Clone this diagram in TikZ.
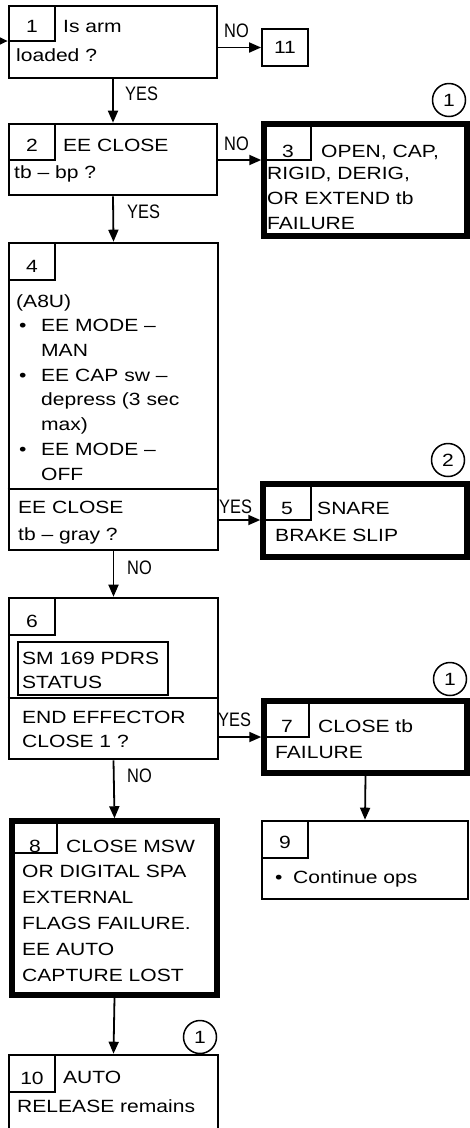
\documentclass[tikz,border=0pt]{standalone}
\usepackage{fontspec}
\setmainfont{Liberation Sans}[FakeStretch=1.19]
\newfontfamily\yesnofont{Liberation Sans}[FakeStretch=0.84]
\usetikzlibrary{arrows.meta,fit}

\begin{document}
\begin{tikzpicture}[x=1pt,y=-1pt,
  every node/.style={inner sep=0pt},
  txt/.style={anchor=base west,align=left,font=\fontsize{17.7}{24.7}\selectfont},
  numtxt/.style={anchor=base,font=\fontsize{17.7}{20}\selectfont},
  lbl/.style={anchor=base west,font=\yesnofont\fontsize{19.5}{20}\selectfont},
  stepbox/.style={draw,line width=2.6pt},
  failbox/.style={draw,line width=5.5pt},
  numbox/.style={draw,line width=1.3pt,outer sep=0pt,anchor=north west,
    minimum width=46,minimum height=36},
  refnote/.style={draw,circle,line width=1.5pt,minimum size=33,font=\fontsize{17.7}{20}\selectfont},
  arr/.style={line width=1.8pt,-{Triangle[length=12pt,width=10pt]}}]
\useasboundingbox (0,0) rectangle (469,1128);
% (multi-line texts are placed by the baseline of their last line)
%
% Step 1 and 11
\node[stepbox,fit={(9,6) (217,78)}] (b1) {};
\node[numbox,minimum height=35] (n1) at (9,6) {};
\node[numtxt] (k1) at (32,32) {1};
\node[txt] (t1a) at (63,32) {Is arm};
\node[txt] (t1b) at (16,61) {loaded ?};
\node[draw,line width=1.8pt,minimum width=46,minimum height=37] (b11) at (285,47.5) {};
\node[numtxt] (k11) at (285,53.5) {11};
\coordinate (entry) at (0,41);
\draw[line width=1.8pt,-{Triangle[length=9pt,width=8pt]}] (entry) -- (entry -| b1.west);
\draw[arr] (b11.west -| b1.east) -- (b11.west);
\node[lbl] (no1) at (224,37) {NO};
%
% Step 2
\node[stepbox,fit={(9,124) (217,195)}] (b2) {};
\node[numbox] (n2) at (9,124) {};
\node[numtxt] (k2) at (32,151) {2};
\node[txt] (t2a) at (63,151) {EE CLOSE};
\node[txt] (t2b) at (14,178) {tb – bp ?};
\draw[arr] (b1.south) -- (b2.north);
\node[lbl] (yes1) at (125,100) {YES};
%
% Step 3
\node[failbox,fit={(264,124) (467,236)}] (b3) {};
\node[numbox,minimum width=47] (n3) at (264,124) {};
\node[numtxt] (k3) at (288,157) {3};
\node[txt] (t3a) at (321,157) {OPEN, CAP,};
\node[txt] (t3b) at (267,229) {RIGID, DERIG,\\OR EXTEND tb\\FAILURE};
\node[refnote] (c1) at (449,100) {1};
\draw[arr] (n3.south west -| b2.east) -- (n3.south west -| b3.west);
\node[lbl] (no2) at (224,150) {NO};
%
% Step 4
\node[stepbox,fit={(9,243) (218,550)}] (b4) {};
\node[numbox,minimum height=37] (n4) at (9,243) {};
\node[numtxt] (k4) at (32,272) {4};
\node[txt] (t4a) at (16,480) {(A8U)\\
  \makebox[25pt][l]{\hspace{3pt}\textbullet}EE MODE –\\
  \hspace*{25pt}MAN\\
  \makebox[25pt][l]{\hspace{3pt}\textbullet}EE CAP sw –\\
  \hspace*{25pt}depress (3 sec\\
  \hspace*{25pt}max)\\
  \makebox[25pt][l]{\hspace{3pt}\textbullet}EE MODE –\\
  \hspace*{25pt}OFF};
\coordinate (d4) at (0,489);
\draw[line width=2.6pt] (b4.west |- d4) -- (b4.east |- d4);
\node[txt] (t4b) at (18,540) {EE CLOSE\\[2pt]tb – gray ?};
\draw[arr] (b2.south) -- (b4.north);
\node[lbl] (yes2) at (127,218) {YES};
%
% Step 5
\node[failbox,fit={(263,484) (467,557)}] (b5) {};
\node[numbox,minimum width=48] (n5) at (263,484) {};
\node[numtxt] (k5) at (287,514) {5};
\node[txt] (t5a) at (317,514) {SNARE};
\node[txt] (t5b) at (275,541) {BRAKE SLIP};
\node[refnote] (c2) at (448,460) {2};
\draw[arr] (n5.south west -| b4.east) -- (n5.south west -| b5.west);
\node[lbl] (yes3) at (219,513) {YES};
%
% Step 6
\node[stepbox,fit={(9,598) (218,759)}] (b6) {};
\node[numbox,minimum height=37] (n6) at (9,598) {};
\node[numtxt] (k6) at (32,627) {6};
\node[draw,line width=2pt,fit={(18,642) (168,695)}] (sm) {};
\node[txt] (t6a) at (22,688.7) {SM 169 PDRS\\STATUS};
\coordinate (d6) at (0,698);
\draw[line width=2.6pt] (b6.west |- d6) -- (b6.east |- d6);
\node[txt] (t6b) at (22,747.7) {END EFFECTOR\\CLOSE 1 ?};
\draw[arr] (b4.south) -- (b6.north);
\node[lbl] (no3) at (127,574) {NO};
%
% Step 7
\node[failbox,fit={(264,701) (467,773)}] (b7) {};
\node[numbox,minimum width=45] (n7) at (264,701) {};
\node[numtxt] (k7) at (287,732.5) {7};
\node[txt] (t7a) at (318,732) {CLOSE tb};
\node[txt] (t7b) at (275,758) {FAILURE};
\node[refnote] (c3) at (450,679) {1};
\draw[arr] (n7.south west -| b6.east) -- (n7.south west -| b7.west);
\node[lbl] (yes4) at (218,726) {YES};
%
% Step 9
\node[stepbox,fit={(262,821) (468,899)}] (b9) {};
\node[numbox,minimum height=37] (n9) at (262,821) {};
\node[numtxt] (k9) at (285,848) {9};
\node[txt] (t9) at (275,883) {\makebox[18pt][l]{\textbullet}Continue ops};
\draw[arr] (b7.south) -- (b9.north);
%
% Step 8
\node[failbox,fit={(12,821) (217,995)}] (b8) {};
\node[numbox,minimum width=45,minimum height=32] (n8) at (12,821) {};
\node[numtxt] (k8) at (35,852.5) {8};
\node[txt] (t8a) at (66,852) {CLOSE MSW};
\node[txt,font=\fontsize{17.7}{26}\selectfont] (t8b) at (22,981)
  {OR DIGITAL SPA\\EXTERNAL\\FLAGS FAILURE.\\EE AUTO\\CAPTURE LOST};
\draw[arr] (b6.south) -- (b8.north);
\node[lbl] (no4) at (127,782) {NO};
%
% Step 10
\node[stepbox,fit={(9,1055) (218,1140)}] (b10) {};
\node[numbox,minimum height=37] (n10) at (9,1055) {};
\node[numtxt] (k10) at (32,1084) {10};
\node[txt] (t10a) at (63,1083) {AUTO};
\node[txt] (t10b) at (17,1112) {RELEASE remains};
\node[refnote] (c4) at (200,1037) {1};
\draw[arr] (b8.south) -- (b10.north);
\end{tikzpicture}
\end{document}
